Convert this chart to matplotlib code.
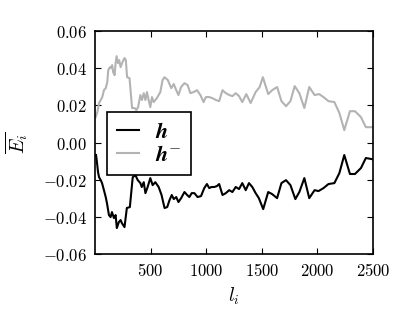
import matplotlib
matplotlib.use("Agg")
import matplotlib.pyplot as plt

plt.rcParams["mathtext.fontset"] = "cm"

# black line: h
x_h = [9, 15, 27, 36, 51, 63, 80, 96, 107, 125, 140, 152, 170, 185, 196, 214, 230, 241, 265,
       286, 313, 339, 363, 384, 408, 420, 438, 453, 473, 497, 518, 542, 572, 598, 625, 649,
       670, 690, 708, 730, 750, 774, 804, 828, 848, 869, 893, 922, 953, 982, 1006, 1027, 1047,
       1072, 1096, 1116, 1146, 1176, 1206, 1235, 1265, 1295, 1324, 1355, 1384, 1414, 1444,
       1473, 1512, 1557, 1592, 1637, 1676, 1717, 1757, 1801, 1837, 1882, 1926, 1974, 2009,
       2054, 2099, 2152, 2197, 2241, 2292, 2337, 2391, 2435, 2490]
y_h = [-0.0067, -0.0094, -0.0159, -0.0186, -0.0202, -0.0218, -0.0256, -0.0293, -0.0325, -0.0390,
       -0.0401, -0.0374, -0.0406, -0.0390, -0.0460, -0.0428, -0.0417, -0.0433, -0.0455, -0.0352,
       -0.0347, -0.0186, -0.0175, -0.0202, -0.0218, -0.0239, -0.0213, -0.0272, -0.0239, -0.0191,
       -0.0229, -0.0213, -0.0239, -0.0282, -0.0352, -0.0347, -0.0309, -0.0282, -0.0304, -0.0293,
       -0.0320, -0.0299, -0.0266, -0.0282, -0.0293, -0.0272, -0.0272, -0.0293, -0.0288, -0.0245,
       -0.0223, -0.0245, -0.0239, -0.0239, -0.0234, -0.0223, -0.0282, -0.0272, -0.0256, -0.0266,
       -0.0239, -0.0250, -0.0218, -0.0256, -0.0218, -0.0239, -0.0272, -0.0299, -0.0358, -0.0266,
       -0.0277, -0.0299, -0.0218, -0.0202, -0.0229, -0.0304, -0.0266, -0.0191, -0.0299, -0.0256,
       -0.0261, -0.0245, -0.0223, -0.0218, -0.0164, -0.0067, -0.0169, -0.0169, -0.0137, -0.0083,
       -0.0089]

# grey line: h^-
x_hm = [6, 21, 36, 51, 65, 80, 96, 110, 119, 134, 146, 154, 163, 176, 185, 194, 205, 217, 230,
        247, 265, 277, 288, 310, 333, 355, 372, 387, 408, 422, 438, 453, 467, 482, 497, 512,
        527, 556, 587, 607, 625, 655, 685, 708, 730, 750, 774, 804, 833, 857, 887, 917, 947,
        976, 997, 1027, 1056, 1087, 1116, 1146, 1176, 1206, 1235, 1265, 1295, 1324, 1360, 1399,
        1444, 1480, 1509, 1557, 1592, 1637, 1676, 1717, 1757, 1795, 1837, 1882, 1926, 1974,
        2015, 2054, 2099, 2152, 2197, 2241, 2292, 2337, 2391, 2435, 2490]
y_hm = [0.0137, 0.0164, 0.0213, 0.0229, 0.0245, 0.0282, 0.0293, 0.0325, 0.0390, 0.0406, 0.0401,
        0.0417, 0.0379, 0.0363, 0.0428, 0.0465, 0.0428, 0.0444, 0.0406, 0.0433, 0.0455, 0.0444,
        0.0352, 0.0347, 0.0186, 0.0186, 0.0175, 0.0191, 0.0256, 0.0229, 0.0266, 0.0229, 0.0272,
        0.0229, 0.0191, 0.0245, 0.0218, 0.0239, 0.0272, 0.0336, 0.0352, 0.0336, 0.0293, 0.0315,
        0.0282, 0.0256, 0.0299, 0.0320, 0.0309, 0.0266, 0.0272, 0.0282, 0.0256, 0.0218, 0.0245,
        0.0245, 0.0239, 0.0229, 0.0223, 0.0282, 0.0266, 0.0256, 0.0250, 0.0266, 0.0250, 0.0218,
        0.0261, 0.0213, 0.0272, 0.0299, 0.0352, 0.0261, 0.0282, 0.0299, 0.0223, 0.0196, 0.0223,
        0.0304, 0.0266, 0.0186, 0.0299, 0.0256, 0.0261, 0.0245, 0.0223, 0.0218, 0.0159, 0.0067,
        0.0169, 0.0169, 0.0137, 0.0083, 0.0083]

xticks = [500, 1000, 1500, 2000, 2500]
yticks = [-0.06, -0.04, -0.02, 0.00, 0.02, 0.04, 0.06]

fig = plt.figure(figsize=(4.15, 3.11), dpi=100)
ax = fig.add_axes([0.229, 0.183, 0.670, 0.717])

ax.plot(x_h, y_h, color="black", lw=1.5, label=r"$\mathbfit{h}$")
ax.plot(x_hm, y_hm, color="#b3b3b3", lw=1.5, label=r"$\mathbfit{h}^{-}$")

ax.set_xlim(0, 2500)
ax.set_ylim(-0.06, 0.06)
ax.set_xticks(xticks)
ax.set_xticklabels([f"${v}$" for v in xticks])
ax.set_yticks(yticks)
ax.set_yticklabels([f"${v:.2f}$" for v in yticks])
ax.tick_params(direction="in", top=True, right=True, length=4, labelsize=12, pad=6)
for s in ax.spines.values():
    s.set_linewidth(1.2)

ax.set_xlabel(r"$l_i$", fontsize=14)
ax.set_ylabel(r"$\overline{E_i}$", fontsize=14, labelpad=9)

leg = ax.legend(loc="upper left", bbox_to_anchor=(0.043, 0.637), fontsize=16,
                fancybox=False, framealpha=1, edgecolor="black", borderaxespad=0,
                handlelength=1.0, borderpad=0.45, labelspacing=0.12, handletextpad=0.7)
leg.get_frame().set_linewidth(1.2)

fig.savefig("out.png", dpi=100)
